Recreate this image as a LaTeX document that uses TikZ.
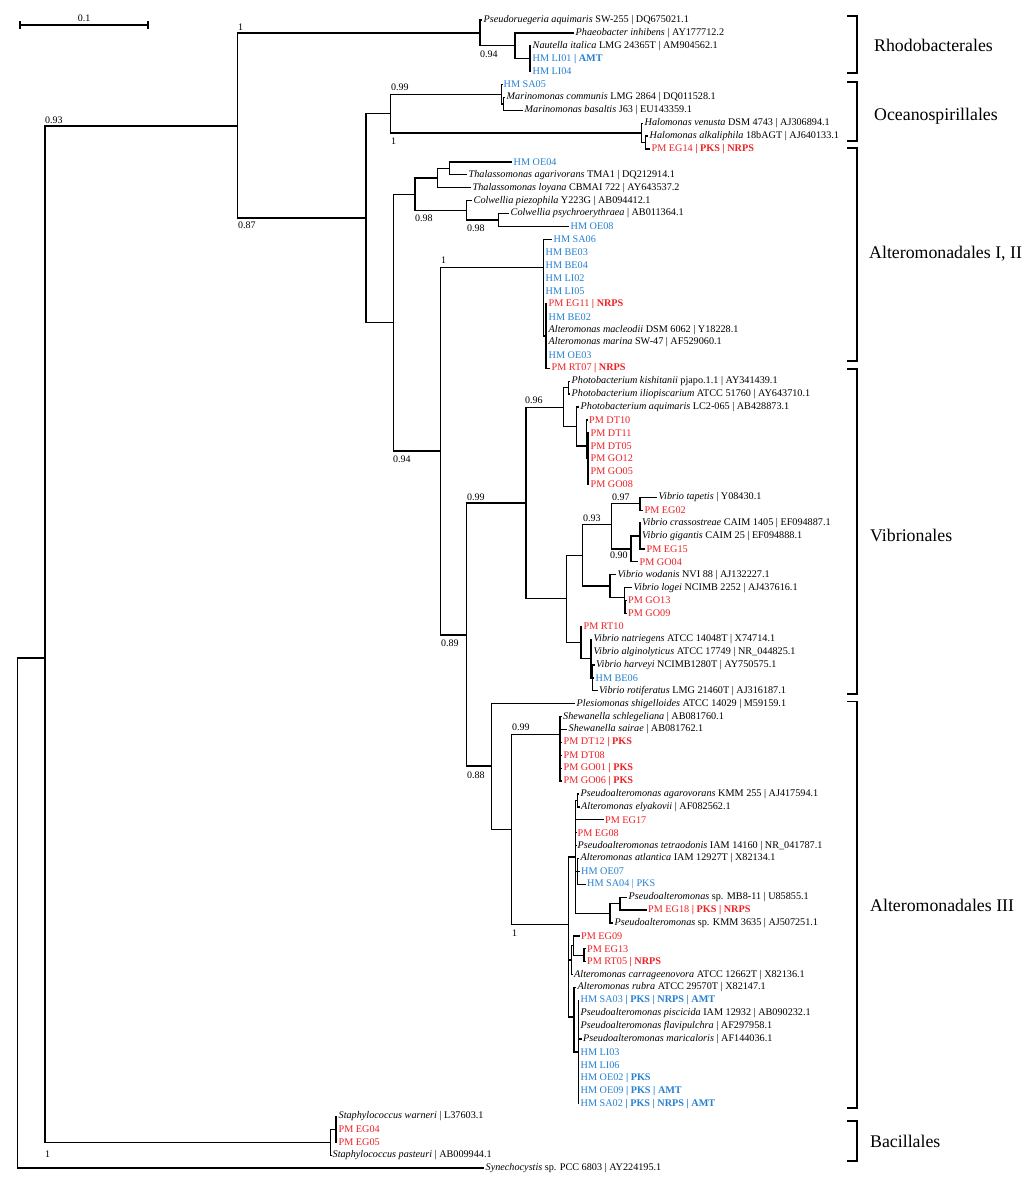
\documentclass[tikz,border=0pt]{standalone}
\usepackage{fontspec}
\setmainfont{Liberation Serif}
\definecolor{hmblue}{RGB}{38,128,208}
\definecolor{pmred}{RGB}{238,32,36}
\newcommand\HM[1]{\textcolor{hmblue}{#1}}
\newcommand\PM[1]{\textcolor{pmred}{#1}}
\newcommand\leafnode[3]{\node[leaf] (t#1) at (#2,{20+12.9*(#1-1)}) {#3};}
% parent, first child, last child
\newcommand\kidsii[3]{%
  \draw[br,line cap=rect] (#1 |- #2) -- (#1 |- #3);
  \draw[br] (#1 |- #2) -- (#2);
  \draw[br] (#1 |- #3) -- (#3);}
% parent, first child, last child, middle children
\newcommand\kidsn[4]{%
  \kidsii{#1}{#2}{#3}%
  \foreach \c in {#4}{\draw[br] (#1 |- \c) -- (\c);}}
\begin{document}
\begin{tikzpicture}[x=1pt,y=-1pt,
  br/.style={line width=1.3pt},
  leaf/.style={anchor=west,inner xsep=1.5pt,inner ysep=0pt,font=\fontsize{10.2}{12}\selectfont},
  sup/.style={anchor=west,inner sep=0pt,font=\fontsize{10}{12}\selectfont},
  clade/.style={anchor=west,inner sep=0pt,font=\fontsize{17.8}{20}\selectfont},
  brk/.style={line width=1.1pt}]
\useasboundingbox (0,0) rectangle (1024,1194);

% scale bar
\coordinate (sb1) at (20,25);
\coordinate (sb2) at (148,25);
\draw[br] (sb1) -- (sb2);
\draw[br] ([yshift=4pt]sb1) -- ([yshift=-4pt]sb1);
\draw[br] ([yshift=4pt]sb2) -- ([yshift=-4pt]sb2);
\node[sup,anchor=center] (sbl) at (84,18) {0.1};

% leaves
\leafnode{1}{482}{\textit{Pseudoruegeria aquimaris} SW-255 | DQ675021.1}
\leafnode{2}{574}{\textit{Phaeobacter inhibens} | AY177712.2}
\leafnode{3}{531}{\textit{Nautella italica} LMG 24365T | AM904562.1}
\leafnode{4}{531}{\HM{HM LI01 \textbf{| AMT}}}
\leafnode{5}{531}{\HM{HM LI04}}
\leafnode{6}{502}{\HM{HM SA05}}
\leafnode{7}{505}{\textit{Marinomonas communis} LMG 2864 | DQ011528.1}
\leafnode{8}{523}{\textit{Marinomonas basaltis} J63 | EU143359.1}
\leafnode{9}{643}{\textit{Halomonas venusta} DSM 4743 | AJ306894.1}
\leafnode{10}{648}{\textit{Halomonas alkaliphila} 18bAGT | AJ640133.1}
\leafnode{11}{650}{\PM{PM EG14 \textbf{| PKS | NRPS}}}
\leafnode{12}{512}{\HM{HM OE04}}
\leafnode{13}{467}{\textit{Thalassomonas agarivorans} TMA1 | DQ212914.1}
\leafnode{14}{471}{\textit{Thalassomonas loyana} CBMAI 722 | AY643537.2}
\leafnode{15}{472}{\textit{Colwellia piezophila} Y223G | AB094412.1}
\leafnode{16}{509}{\textit{Colwellia psychroerythraea} | AB011364.1}
\leafnode{17}{569}{\HM{HM OE08}}
\leafnode{18}{552}{\HM{HM SA06}}
\leafnode{19}{544}{\HM{HM BE03}}
\leafnode{20}{544}{\HM{HM BE04}}
\leafnode{21}{544}{\HM{HM LI02}}
\leafnode{22}{544}{\HM{HM LI05}}
\leafnode{23}{547}{\PM{PM EG11 \textbf{| NRPS}}}
\leafnode{24}{547}{\HM{HM BE02}}
\leafnode{25}{547}{\textit{Alteromonas macleodii} DSM 6062 | Y18228.1}
\leafnode{26}{547}{\textit{Alteromonas marina} SW-47 | AF529060.1}
\leafnode{27}{547}{\HM{HM OE03}}
\leafnode{28}{550}{\PM{PM RT07 \textbf{| NRPS}}}
\leafnode{29}{570}{\textit{Photobacterium kishitanii} pjapo.1.1 | AY341439.1}
\leafnode{30}{570}{\textit{Photobacterium iliopiscarium} ATCC 51760 | AY643710.1}
\leafnode{31}{579}{\textit{Photobacterium aquimaris} LC2-065 | AB428873.1}
\leafnode{32}{587.5}{\PM{PM DT10}}
\leafnode{33}{589}{\PM{PM DT11}}
\leafnode{34}{589}{\PM{PM DT05}}
\leafnode{35}{589}{\PM{PM GO12}}
\leafnode{36}{589}{\PM{PM GO05}}
\leafnode{37}{589}{\PM{PM GO08}}
\leafnode{38}{657}{\textit{Vibrio tapetis} | Y08430.1}
\leafnode{39}{643}{\PM{PM EG02}}
\leafnode{40}{640.5}{\textit{Vibrio crassostreae} CAIM 1405 | EF094887.1}
\leafnode{41}{640.5}{\textit{Vibrio gigantis} CAIM 25 | EF094888.1}
\leafnode{42}{645}{\PM{PM EG15}}
\leafnode{43}{638}{\PM{PM GO04}}
\leafnode{44}{616}{\textit{Vibrio wodanis} NVI 88 | AJ132227.1}
\leafnode{45}{632}{\textit{Vibrio logei} NCIMB 2252 | AJ437616.1}
\leafnode{46}{626.5}{\PM{PM GO13}}
\leafnode{47}{626.5}{\PM{PM GO09}}
\leafnode{48}{582}{\PM{PM RT10}}
\leafnode{49}{592}{\textit{Vibrio natriegens} ATCC 14048T | X74714.1}
\leafnode{50}{592}{\textit{Vibrio alginolyticus} ATCC 17749 | NR\_044825.1}
\leafnode{51}{594.5}{\textit{Vibrio harveyi} NCIMB1280T | AY750575.1}
\leafnode{52}{594}{\HM{HM BE06}}
\leafnode{53}{597.5}{\textit{Vibrio rotiferatus} LMG 21460T | AJ316187.1}
\leafnode{54}{575}{\textit{Plesiomonas shigelloides} ATCC 14029 | M59159.1}
\leafnode{55}{561.5}{\textit{Shewanella schlegeliana} | AB081760.1}
\leafnode{56}{567}{\textit{Shewanella sairae} | AB081762.1}
\leafnode{57}{562}{\PM{PM DT12 \textbf{| PKS}}}
\leafnode{58}{562}{\PM{PM DT08}}
\leafnode{59}{562}{\PM{PM GO01 \textbf{| PKS}}}
\leafnode{60}{562}{\PM{PM GO06 \textbf{| PKS}}}
\leafnode{61}{579}{\textit{Pseudoalteromonas agarovorans} KMM 255 | AJ417594.1}
\leafnode{62}{579.5}{\textit{Alteromonas elyakovii} | AF082562.1}
\leafnode{63}{603.5}{\PM{PM EG17}}
\leafnode{64}{576}{\PM{PM EG08}}
\leafnode{65}{576}{\textit{Pseudoalteromonas tetraodonis} IAM 14160 | NR\_041787.1}
\leafnode{66}{579}{\textit{Alteromonas atlantica} IAM 12927T | X82134.1}
\leafnode{67}{579.5}{\HM{HM OE07}}
\leafnode{68}{585.5}{\HM{HM SA04 | PKS}}
\leafnode{69}{627}{\textit{Pseudoalteromonas} sp. MB8-11 | U85855.1}
\leafnode{70}{646.5}{\PM{PM EG18 \textbf{| PKS | NRPS}}}
\leafnode{71}{613}{\textit{Pseudoalteromonas} sp. KMM 3635 | AJ507251.1}
\leafnode{72}{579.5}{\PM{PM EG09}}
\leafnode{73}{585.5}{\PM{PM EG13}}
\leafnode{74}{585.5}{\PM{PM RT05 \textbf{| NRPS}}}
\leafnode{75}{572.5}{\textit{Alteromonas carrageenovora} ATCC 12662T | X82136.1}
\leafnode{76}{576}{\textit{Alteromonas rubra} ATCC 29570T | X82147.1}
\leafnode{77}{579}{\HM{HM SA03 \textbf{| PKS | NRPS | AMT}}}
\leafnode{78}{579}{\textit{Pseudoalteromonas piscicida} IAM 12932 | AB090232.1}
\leafnode{79}{579}{\textit{Pseudoalteromonas flavipulchra} | AF297958.1}
\leafnode{80}{581.5}{\textit{Pseudoalteromonas maricaloris} | AF144036.1}
\leafnode{81}{579}{\HM{HM LI03}}
\leafnode{82}{579}{\HM{HM LI06}}
\leafnode{83}{579}{\HM{HM OE02 \textbf{| PKS}}}
\leafnode{84}{579}{\HM{HM OE09 \textbf{| PKS | AMT}}}
\leafnode{85}{579}{\HM{HM SA02 \textbf{| PKS | NRPS | AMT}}}
\leafnode{86}{337}{\textit{Staphylococcus warneri} | L37603.1}
\leafnode{87}{337}{\PM{PM EG04}}
\leafnode{88}{337}{\PM{PM EG05}}
\leafnode{89}{331}{\textit{Staphylococcus pasteuri} | AB009944.1}
\leafnode{90}{484}{\textit{Synechocystis} sp. PCC 6803 | AY224195.1}

% internal nodes
\coordinate (R3) at (530,58.7);
\coordinate (R2) at (515,45.8);
\coordinate (R1) at (480,33);
\coordinate (M2) at (503.5,103.9);
\coordinate (M1) at (501.7,94.2);
\coordinate (H2) at (645.5,142.5);
\coordinate (H1) at (641.7,132.9);
\coordinate (O) at (390.7,113.5);
\coordinate (T3) at (449.3,168.4);
\coordinate (T2) at (437.3,178);
\coordinate (C2) at (498.3,219.9);
\coordinate (C1) at (466.7,210.3);
\coordinate (T1) at (415,194.2);
\coordinate (A2) at (546,336);
\coordinate (A1) at (543.3,267.3);
\coordinate (P4) at (588,458.6);
\coordinate (P3) at (586.7,446);
\coordinate (P2) at (576.7,426.7);
\coordinate (P1) at (568.7,387.7);
\coordinate (P0) at (563.3,407.2);
\coordinate (V6) at (640,503.75);
\coordinate (V8) at (640,536);
\coordinate (V7) at (631,548.9);
\coordinate (V4) at (611.7,524.5);
\coordinate (V10) at (625,607);
\coordinate (V9) at (624.3,597.3);
\coordinate (V5) at (610,586);
\coordinate (V2) at (582.7,555.2);
\coordinate (V12) at (592.5,677.9);
\coordinate (V11) at (591,658.5);
\coordinate (V3) at (581,642.4);
\coordinate (V1) at (566.7,598.8);
\coordinate (V0) at (526,503);
\coordinate (S) at (560,734.3);
\coordinate (K1a) at (577.7,800.5);
\coordinate (K1b) at (577.7,871.4);
\coordinate (K1d) at (620,903.7);
\coordinate (K1c) at (610,913.3);
\coordinate (K1) at (575.7,857);
\coordinate (K5) at (584,955.25);
\coordinate (K4) at (573.3,945.6);
\coordinate (K3) at (571.7,960);
\coordinate (K6) at (578.3,1052);
\coordinate (K7) at (574,1017);
\coordinate (K) at (568.3,924.3);
\coordinate (H) at (511.7,829.3);
\coordinate (G) at (491.7,766);
\coordinate (F) at (466.7,635);
\coordinate (E) at (440.7,451);
\coordinate (D) at (393.3,322.7);
\coordinate (C) at (366,218);
\coordinate (B) at (237.7,126);
\coordinate (Ba1) at (336,1129.4);
\coordinate (Ba0) at (330.7,1142.3);
\coordinate (A) at (45,658);
\coordinate (root) at (17.3,913);

% branches
\kidsn{R3}{t3.west}{t5.west}{t4.west}
\kidsii{R2}{t2.west}{R3}
\kidsii{R1}{t1.west}{R2}
\kidsii{M2}{t7.west}{t8.west}
\kidsii{M1}{t6.west}{M2}
\kidsii{H2}{t10.west}{t11.west}
\kidsii{H1}{t9.west}{H2}
\kidsii{O}{M1}{H1}
\kidsii{T3}{t12.west}{t13.west}
\kidsii{T2}{T3}{t14.west}
\kidsii{C2}{t16.west}{t17.west}
\kidsii{C1}{t15.west}{C2}
\kidsii{T1}{T2}{C1}
\kidsn{A2}{t23.west}{t28.west}{t24.west,t25.west,t26.west,t27.west}
\kidsn{A1}{t18.west}{A2}{t19.west,t20.west,t21.west,t22.west}
\kidsn{P4}{t33.west}{t37.west}{t34.west,t35.west,t36.west}
\kidsii{P3}{t32.west}{P4}
\kidsii{P2}{t31.west}{P3}
\kidsii{P1}{t29.west}{t30.west}
\kidsii{P0}{P1}{P2}
\kidsii{V6}{t38.west}{t39.west}
\kidsn{V8}{t40.west}{t42.west}{t41.west}
\kidsii{V7}{V8}{t43.west}
\kidsii{V4}{V6}{V7}
\kidsii{V10}{t46.west}{t47.west}
\kidsii{V9}{t45.west}{V10}
\kidsii{V5}{t44.west}{V9}
\kidsii{V2}{V4}{V5}
\kidsn{V12}{t51.west}{t53.west}{t52.west}
\kidsn{V11}{t49.west}{V12}{t50.west}
\kidsii{V3}{t48.west}{V11}
\kidsii{V1}{V2}{V3}
\kidsii{V0}{P0}{V1}
\kidsn{S}{t55.west}{t60.west}{t56.west,t57.west,t58.west,t59.west}
\kidsii{K1a}{t61.west}{t62.west}
\kidsn{K1b}{t66.west}{t68.west}{t67.west}
\kidsii{K1d}{t69.west}{t70.west}
\kidsii{K1c}{K1d}{t71.west}
\kidsn{K1}{K1a}{K1c}{t63.west,t64.west,t65.west,K1b}
\kidsii{K5}{t73.west}{t74.west}
\kidsii{K4}{t72.west}{K5}
\kidsii{K3}{K4}{t75.west}
\kidsn{K6}{t77.west}{t85.west}{t78.west,t79.west,t80.west,t81.west,t82.west,t83.west,t84.west}
\kidsii{K7}{t76.west}{K6}
\kidsn{K}{K1}{K7}{K3}
\kidsii{H}{S}{K}
\kidsii{G}{t54.west}{H}
\kidsii{F}{V0}{G}
\kidsii{E}{A1}{F}
\kidsii{D}{T1}{E}
\kidsii{C}{O}{D}
\kidsii{B}{R1}{C}
\kidsn{Ba1}{t86.west}{t88.west}{t87.west}
\kidsii{Ba0}{Ba1}{t89.west}
\kidsii{A}{B}{Ba0}
\kidsii{root}{A}{t90.west}

% support values
\node[sup] (s1) at (45,120) {0.93};
\node[sup] (s2) at (238,27) {1};
\node[sup] (s3) at (238,225) {0.87};
\node[sup] (s4) at (480,54) {0.94};
\node[sup] (s5) at (391,87) {0.99};
\node[sup] (s6) at (391,141) {1};
\node[sup] (s7) at (415,218) {0.98};
\node[sup] (s8) at (467,228) {0.98};
\node[sup] (s9) at (441,260) {1};
\node[sup] (s10) at (393,459) {0.94};
\node[sup] (s11) at (525,400) {0.96};
\node[sup] (s12) at (467,497) {0.99};
\node[sup] (s13) at (441,643) {0.89};
\node[sup] (s14) at (612,497) {0.97};
\node[sup] (s15) at (583,518) {0.93};
\node[sup] (s16) at (610,555) {0.90};
\node[sup] (s17) at (512,727) {0.99};
\node[sup] (s18) at (467,775) {0.88};
\node[sup] (s19) at (512,933) {1};
\node[sup] (s20) at (45,1154) {1};

% clade brackets
\draw[brk] (847,16) -- (857,16) -- (857,73) -- (847,73);
\draw[brk] (847,82) -- (857,82) -- (857,141) -- (847,141);
\draw[brk] (847,148) -- (857,148) -- (857,361) -- (847,361);
\draw[brk] (847,369) -- (857,369) -- (857,694) -- (847,694);
\draw[brk] (847,701.5) -- (857,701.5) -- (857,1108) -- (847,1108);
\draw[brk] (847,1121) -- (857,1121) -- (857,1161) -- (847,1161);
\node[clade] (k1) at (874,45) {Rhodobacterales};
\node[clade] (k2) at (874,116) {Oceanospirillales};
\node[clade] (k3) at (869,254) {Alteromonadales I, II};
\node[clade] (k4) at (870,535) {Vibrionales};
\node[clade] (k5) at (870,905) {Alteromonadales III};
\node[clade] (k6) at (870,1141) {Bacillales};
\end{tikzpicture}
\end{document}
